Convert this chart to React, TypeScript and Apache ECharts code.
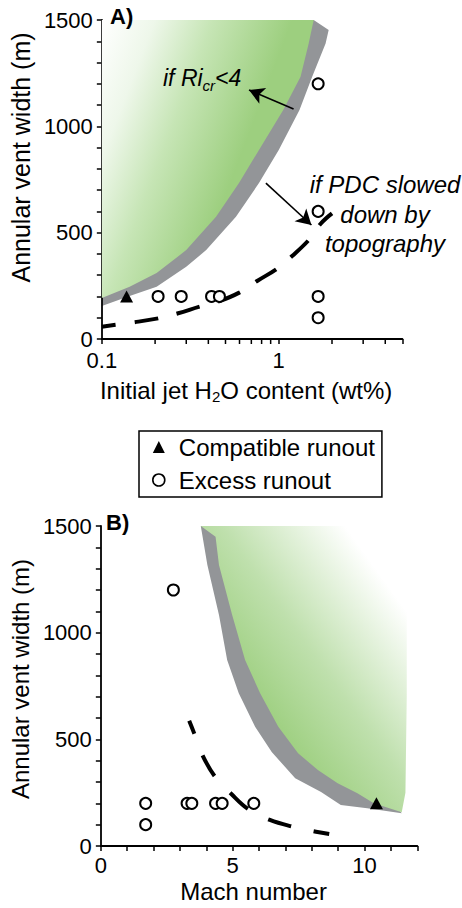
import React, { useEffect, useRef } from 'react';
import * as echarts from 'echarts';

const FONT = 'Liberation Sans, Arial, Helvetica, sans-serif';

// ---------- Panel A: Initial jet H2O content (log) vs annular vent width ----------
const A_COMPATIBLE = [[0.138, 200]];
const A_EXCESS = [
  [0.208, 200], [0.281, 200], [0.417, 200], [0.462, 200],
  [1.67, 1200], [1.67, 600], [1.67, 200], [1.67, 100],
];
const A_DASHED = [
  [0.1, 58], [0.147, 77], [0.208, 97], [0.27, 121], [0.357, 152], [0.452, 175],
  [0.598, 218], [0.759, 274], [0.983, 332], [1.19, 390], [1.51, 474], [1.72, 541], [2.0, 591],
];
const A_GREEN = [
  [0.1, 1500], [1.576, 1500], [1.476, 1390], [1.328, 1233], [1.06, 1077], [0.773, 889],
  [0.596, 733], [0.442, 575], [0.3, 418], [0.204, 310], [0.1436, 246], [0.1, 193],
];
const A_GRAY = [
  [0.1, 1500], [1.576, 1500], [1.915, 1453], [1.84, 1390], [1.545, 1233], [1.31, 1077],
  [1.0, 889], [0.773, 733], [0.573, 575], [0.389, 418], [0.3, 340], [0.204, 246],
  [0.1436, 202], [0.1, 155],
];
const A_MINOR_TICKS = [0.2, 0.3, 0.4, 0.5, 0.6, 0.7, 0.8, 0.9, 2, 3, 4];

// ---------- Panel B: Mach number vs annular vent width ----------
const B_COMPATIBLE = [[10.45, 200]];
const B_EXCESS = [
  [1.7, 200], [1.7, 100], [2.75, 1200], [3.27, 200], [3.45, 200],
  [4.35, 200], [4.6, 200], [5.8, 200],
];
const B_DASHED = [
  [3.35, 587], [3.54, 528], [3.85, 427], [4.31, 328], [4.95, 244],
  [5.6, 172], [6.41, 122], [7.29, 90], [8.16, 67], [8.66, 56],
];
const B_GRAY = [
  [3.79, 1500], [8, 1500], [11.3, 170], [11.41, 154], [10.1, 177], [9.1, 192],
  [8.35, 253], [7.37, 317], [6.48, 441], [5.85, 559], [5.23, 716], [4.79, 872],
  [4.48, 1083], [4.04, 1317],
];
const B_GREEN = [
  [3.79, 1500], [11.6, 1500], [11.6, 700], [11.55, 250], [11.41, 158],
  [10.35, 200], [9.73, 247], [8.98, 294], [8.23, 356], [7.48, 435], [6.73, 559],
  [6.04, 716], [5.47, 872], [4.98, 1083], [4.48, 1317], [4.35, 1450],
];

const Y_MAX = 1500;

const isPow10 = (v: number) => Math.abs(Math.log10(v) - Math.round(Math.log10(v))) < 1e-6;

function polygonSeries(idx: number, pts: number[][], fill: any, z: number) {
  return {
    type: 'custom',
    xAxisIndex: idx,
    yAxisIndex: idx,
    silent: true,
    clip: false,
    z,
    data: [pts[0]],
    renderItem: (_params: any, api: any) => ({
      type: 'polygon',
      shape: { points: pts.map((p) => api.coord(p)) },
      style: { fill, stroke: null, lineWidth: 0 },
    }),
  };
}

export default function App() {
  const ref = useRef<HTMLDivElement>(null);

  useEffect(() => {
    if (!ref.current) return;
    const chart = echarts.init(ref.current, null, { renderer: 'svg' });

    const green = '#9dcf7f';
    const gray = '#939598';
    const greenA = new echarts.graphic.LinearGradient(0, 0, 1, 0.5, [
      { offset: 0, color: '#ffffff' },
      { offset: 0.2, color: '#eef7ea' },
      { offset: 0.42, color: '#c6e5b5' },
      { offset: 0.72, color: green },
      { offset: 1, color: green },
    ]);
    const greenB = new echarts.graphic.LinearGradient(0, 1, 1, 0, [
      { offset: 0, color: green },
      { offset: 0.32, color: green },
      { offset: 0.55, color: '#bfe0ad' },
      { offset: 0.85, color: '#ffffff' },
      { offset: 1, color: '#ffffff' },
    ]);

    const axisLine = { show: true, onZero: false, lineStyle: { color: '#000', width: 1.8 } };
    const axisTick = { show: true, length: 5, lineStyle: { color: '#000', width: 1.5 } };
    const labelBase = { fontSize: 22, color: '#000', fontFamily: FONT };

    const excessStyle = { color: '#fff', borderColor: '#000', borderWidth: 2, opacity: 1 };
    const compatStyle = { color: '#000', borderWidth: 0, opacity: 1 };

    const option: any = {
      animation: false,
      textStyle: { fontFamily: FONT },
      grid: [
        { left: 100, top: 20, width: 302.4, height: 319 },
        { left: 97.3, top: 526, width: 320, height: 320 },
      ],
      xAxis: [
        {
          gridIndex: 0,
          type: 'log',
          logBase: 10,
          min: 0.1,
          max: 5,
          axisLine,
          axisTick,
          splitLine: { show: false },
          axisLabel: {
            ...labelBase,
            margin: 10,
            formatter: (v: number) => (isPow10(v) ? String(Number(v.toPrecision(3))) : ''),
          },
          name: '{a|Initial jet H}{s|2}{a|O content (wt%)}',
          nameLocation: 'middle',
          nameGap: 37,
          nameTextStyle: {
            padding: [0, 12, 0, 0],
            rich: {
              a: { fontSize: 24, color: '#000', fontFamily: FONT, lineHeight: 28 },
              s: { fontSize: 15, color: '#000', fontFamily: FONT, lineHeight: 10, verticalAlign: 'bottom' },
            },
          },
        },
        {
          gridIndex: 1,
          type: 'value',
          min: 0,
          max: 12,
          interval: 1,
          axisLine,
          axisTick,
          splitLine: { show: false },
          axisLabel: {
            ...labelBase,
            margin: 8,
            formatter: (v: number) => (v % 5 === 0 ? String(v) : ''),
          },
          name: 'Mach number',
          nameLocation: 'middle',
          nameGap: 33,
          nameTextStyle: { fontSize: 24, color: '#000', fontFamily: FONT, padding: [0, 11, 0, 0] },
        },
      ],
      yAxis: [
        {
          gridIndex: 0,
          type: 'value',
          min: 0,
          max: Y_MAX,
          interval: 100,
          axisLine,
          axisTick,
          splitLine: { show: false },
          axisLabel: { ...labelBase, margin: 9, formatter: (v: number) => (v % 500 === 0 ? String(v) : '') },
          name: 'Annular vent width (m)',
          nameLocation: 'middle',
          nameGap: 61,
          nameTextStyle: { fontSize: 25, color: '#000', fontFamily: FONT, padding: [0, 0, 0, 44] },
        },
        {
          gridIndex: 1,
          type: 'value',
          min: 0,
          max: Y_MAX,
          interval: 100,
          axisLine,
          axisTick,
          splitLine: { show: false },
          axisLabel: { ...labelBase, margin: 9, formatter: (v: number) => (v % 500 === 0 ? String(v) : '') },
          name: 'Annular vent width (m)',
          nameLocation: 'middle',
          nameGap: 63,
          nameTextStyle: { fontSize: 24, color: '#000', fontFamily: FONT, padding: [0, 0, 0, 14] },
        },
      ],
      legend: {
        orient: 'vertical',
        left: 139,
        top: 431,
        padding: [4, 7, 5, 13],
        itemGap: 9,
        itemWidth: 12,
        itemHeight: 12,
        borderColor: '#000',
        borderWidth: 1.5,
        selectedMode: false,
        textStyle: { fontSize: 24, color: '#000', fontFamily: FONT, padding: [0, 0, 0, 9] },
        data: [
          { name: 'Compatible runout', icon: 'triangle', itemStyle: compatStyle },
          { name: 'Excess runout', icon: 'circle', itemStyle: { ...excessStyle, borderWidth: 1.6 } },
        ],
      },
      graphic: [
        { type: 'text', x: 110, y: 16, z: 100, style: { text: 'A)', fontSize: 22, fontWeight: 'bold', fontFamily: FONT, fill: '#000', verticalAlign: 'middle' } },
        { type: 'text', x: 106, y: 522, z: 100, style: { text: 'B)', fontSize: 22, fontWeight: 'bold', fontFamily: FONT, fill: '#000', verticalAlign: 'middle' } },
        {
          type: 'text',
          x: 163,
          y: 78,
          z: 100,
          style: {
            text: '{a|if Ri}{s|cr}{a|<4}',
            verticalAlign: 'middle',
            rich: {
              a: { fontSize: 23, fontStyle: 'italic', fontFamily: FONT, fill: '#000', lineHeight: 30 },
              s: { fontSize: 15, fontStyle: 'italic', fontFamily: FONT, fill: '#000', lineHeight: 4, verticalAlign: 'bottom' },
            },
          },
        },
        {
          type: 'text',
          x: 385,
          y: 170,
          z: 100,
          style: {
            text: 'if PDC slowed\ndown by\ntopography',
            fontSize: 24,
            fontStyle: 'italic',
            fontFamily: FONT,
            fill: '#000',
            align: 'center',
            verticalAlign: 'top',
            lineHeight: 29.5,
          },
        },
      ],
      series: [
        polygonSeries(0, A_GRAY, gray, 0),
        polygonSeries(0, A_GREEN, greenA, 1),
        polygonSeries(1, B_GRAY, gray, 0),
        polygonSeries(1, B_GREEN, greenB, 1),
        {
          type: 'custom',
          xAxisIndex: 0,
          yAxisIndex: 0,
          silent: true,
          clip: false,
          z: 5,
          data: A_MINOR_TICKS.map((v) => [v, 0]),
          renderItem: (_p: any, api: any) => {
            const c = api.coord([api.value(0), api.value(1)]);
            return {
              type: 'line',
              shape: { x1: c[0], y1: c[1], x2: c[0], y2: c[1] + 5 },
              style: { stroke: '#000', lineWidth: 1.5 },
            };
          },
        },
        {
          type: 'line',
          xAxisIndex: 0,
          yAxisIndex: 0,
          data: A_DASHED,
          smooth: 0.4,
          showSymbol: false,
          silent: true,
          z: 3,
          lineStyle: { color: '#000', width: 4, type: [24, 19], dashOffset: 10, cap: 'butt' },
          markLine: {
            silent: true,
            symbol: ['none', 'arrow'],
            symbolSize: [13, 15],
            label: { show: false },
            lineStyle: { color: '#000', width: 1.6, type: 'solid' },
            data: [
              [{ coord: [1.213, 1081] }, { coord: [0.679, 1171] }],
              [{ coord: [0.846, 733] }, { coord: [1.53, 536] }],
            ],
          },
        },
        {
          type: 'line',
          xAxisIndex: 1,
          yAxisIndex: 1,
          data: B_DASHED,
          smooth: 0.4,
          showSymbol: false,
          silent: true,
          z: 3,
          lineStyle: { color: '#000', width: 4, type: [24, 23], dashOffset: 10, cap: 'butt' },
        },
        {
          name: 'Compatible runout',
          type: 'scatter',
          xAxisIndex: 0,
          yAxisIndex: 0,
          data: A_COMPATIBLE,
          symbol: 'triangle',
          symbolSize: [13, 12],
          itemStyle: compatStyle,
          z: 4,
        },
        {
          name: 'Excess runout',
          type: 'scatter',
          xAxisIndex: 0,
          yAxisIndex: 0,
          data: A_EXCESS,
          symbol: 'circle',
          symbolSize: 11,
          itemStyle: excessStyle,
          z: 4,
        },
        {
          name: 'Compatible runout',
          type: 'scatter',
          xAxisIndex: 1,
          yAxisIndex: 1,
          data: B_COMPATIBLE,
          symbol: 'triangle',
          symbolSize: [13, 12],
          itemStyle: compatStyle,
          z: 4,
        },
        {
          name: 'Excess runout',
          type: 'scatter',
          xAxisIndex: 1,
          yAxisIndex: 1,
          data: B_EXCESS,
          symbol: 'circle',
          symbolSize: 11,
          itemStyle: excessStyle,
          z: 4,
        },
      ],
    };

    chart.setOption(option);
    return () => chart.dispose();
  }, []);

  return (
    <div
      ref={ref}
      style={{ position: 'fixed', left: 0, top: 0, width: 462, height: 908, background: '#fff' }}
    />
  );
}
